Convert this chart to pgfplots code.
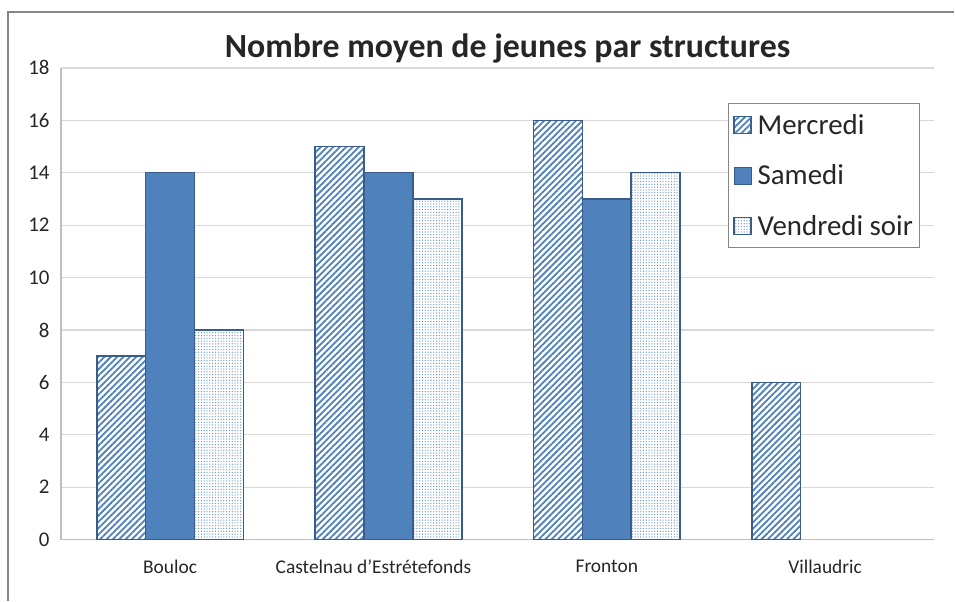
\documentclass[border=0pt]{standalone}
\usepackage{fontspec}
\setmainfont{Carlito}
\usepackage{pgfplots}
\pgfplotsset{compat=1.18}
\usetikzlibrary{patterns.meta}
\definecolor{barblue}{HTML}{4F81BD}
\definecolor{edgeblue}{HTML}{385D8A}
\definecolor{gridgray}{HTML}{D9D9D9}
\definecolor{axisgray}{HTML}{BFBFBF}
\definecolor{framegray}{HTML}{868686}
\definecolor{txt}{HTML}{262626}
\begin{document}
\begin{tikzpicture}[x=1bp,y=1bp]
\path (0,0) rectangle (955,601);
\draw[framegray, line width=1.5bp] (8,0) -- (8,589) -- (955,589);
\node[font=\bfseries\fontsize{34}{34}\selectfont, text=txt] at (508,552) {Nombre moyen de jeunes par structures};
\begin{axis}[
  at={(61bp,61bp)}, anchor=south west,
  scale only axis, width=874bp, height=472bp,
  xmin=-0.5, xmax=3.5, ymin=0, ymax=18,
  ytick={0,2,...,18},
  xtick={0,1,2,3},
  xticklabels={Bouloc, \hspace*{-30bp}Castelnau d’Estrétefonds, Fronton, Villaudric},
  /pgf/number format/assume math mode=true,
  ymajorgrids, grid style={gridgray, line width=1.2bp},
  axis x line*=bottom, axis y line*=left,
  axis line style={axisgray, line width=1.2bp, -},
  major tick length=0pt,
  tick label style={text=txt},
  yticklabel style={font=\fontsize{21}{21}\selectfont, xshift=-8bp},
  xticklabel style={font=\fontsize{19.5}{19.5}\selectfont, yshift=-17bp},
  legend style={at={(0.764,0.926)}, anchor=north west, draw=framegray, line width=1bp,
    font=\fontsize{29}{29}\selectfont, text=txt, row sep=25bp, inner xsep=5bp, inner ysep=9bp,
    cells={anchor=west}, /tikz/every odd column/.append style={column sep=4bp}},
  legend cell align=left,
  legend image code/.code={\draw[#1, line width=1bp] (0bp,-8.5bp) rectangle (17bp,8.5bp);},
]
\addplot[ybar, bar width=0.224, bar shift=-0.224, draw=edgeblue, line width=1.5bp,
  preaction={fill=white},
  pattern={Lines[angle=45, distance=4.5bp, line width=1.8bp]}, pattern color=barblue]
  coordinates {(0,7) (1,15) (2,16) (3,6)};
\addlegendentry{Mercredi}
\addplot[ybar, bar width=0.224, bar shift=0, draw=edgeblue, line width=1.5bp, fill=barblue]
  coordinates {(0,14) (1,14) (2,13)};
\addlegendentry{Samedi}
\addplot[ybar, bar width=0.224, bar shift=0.224, draw=edgeblue, line width=1.5bp,
  preaction={fill=white},
  pattern={Dots[distance=2.8bp, radius=0.65bp]}, pattern color=barblue!85]
  coordinates {(0,8) (1,13) (2,14)};
\addlegendentry{Vendredi soir}
\end{axis}
\end{tikzpicture}
\end{document}
